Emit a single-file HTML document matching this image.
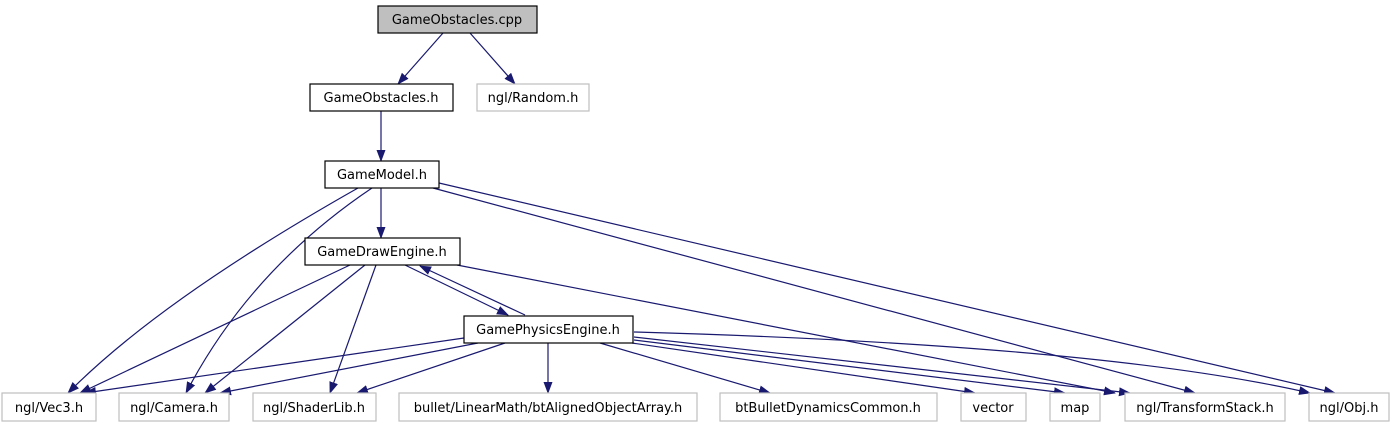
<!DOCTYPE html>
<html><head><style>
html,body{margin:0;padding:0;background:#fff;}
svg{display:block;}
text{font-family:"DejaVu Sans","Liberation Sans",sans-serif;font-size:13px;fill:#000;text-anchor:middle;}
</style></head><body>
<svg width="1395" height="427" viewBox="0 0 1395 427">
<defs><marker id="a" markerWidth="12" markerHeight="9" refX="11" refY="4.5" orient="auto" markerUnits="userSpaceOnUse"><path d="M0,0 L12,4.5 L0,9 z" fill="#191970"/></marker></defs>
<g fill="none" stroke="#191970" stroke-width="1.2" marker-end="url(#a)">
<path d="M443,33 L398,84"/>
<path d="M470,33 L515,84"/>
<path d="M381,111 L381,161"/>
<path d="M381,188 L381,238"/>
<path d="M358,188 Q160,300 68,393"/>
<path d="M372,188 Q250,270 186,393"/>
<path d="M433,188 L1195,393"/>
<path d="M439,183 L1335,393"/>
<path d="M350,265 L80,393"/>
<path d="M365,265 L205,393"/>
<path d="M376,265 L330,393"/>
<path d="M405,265 L508,315"/>
<path d="M525,315 L420,266"/>
<path d="M457,265 L1115,393"/>
<path d="M464,338 L85,393"/>
<path d="M478,343 L220,393"/>
<path d="M505,343 L357,393"/>
<path d="M548,343 L548,393"/>
<path d="M600,343 L770,393"/>
<path d="M632,343 L975,393"/>
<path d="M634,340 L1065,393"/>
<path d="M634,337 L1130,393"/>
<path d="M634,332 Q1100,345 1310,393"/>
</g>
<g stroke-width="1.2">
<rect x="378" y="6" width="159" height="27" fill="#bfbfbf" stroke="#000"/>
<rect x="310" y="84" width="143" height="27" fill="#fff" stroke="#000"/>
<rect x="477" y="84" width="112" height="27" fill="#fff" stroke="#bfbfbf"/>
<rect x="325" y="161" width="114" height="27" fill="#fff" stroke="#000"/>
<rect x="305" y="238" width="155" height="27" fill="#fff" stroke="#000"/>
<rect x="464" y="316" width="169" height="27" fill="#fff" stroke="#000"/>
<g fill="#fff" stroke="#bfbfbf">
<rect x="2" y="393" width="94" height="28"/>
<rect x="119" y="393" width="110" height="28"/>
<rect x="253" y="393" width="123" height="28"/>
<rect x="399" y="393" width="298" height="28"/>
<rect x="720" y="393" width="217" height="28"/>
<rect x="961" y="393" width="65" height="28"/>
<rect x="1050" y="393" width="50" height="28"/>
<rect x="1125" y="393" width="160" height="28"/>
<rect x="1309" y="393" width="80" height="28"/>
</g>
</g>
<text x="457" y="24">GameObstacles.cpp</text>
<text x="381" y="102">GameObstacles.h</text>
<text x="533" y="102">ngl/Random.h</text>
<text x="382" y="179">GameModel.h</text>
<text x="382" y="256">GameDrawEngine.h</text>
<text x="548" y="334">GamePhysicsEngine.h</text>
<text x="49" y="412">ngl/Vec3.h</text>
<text x="174" y="412">ngl/Camera.h</text>
<text x="314" y="412">ngl/ShaderLib.h</text>
<text x="548" y="412">bullet/LinearMath/btAlignedObjectArray.h</text>
<text x="828" y="412">btBulletDynamicsCommon.h</text>
<text x="993" y="412">vector</text>
<text x="1075" y="412">map</text>
<text x="1205" y="412">ngl/TransformStack.h</text>
<text x="1349" y="412">ngl/Obj.h</text>
</svg>
</body></html>
